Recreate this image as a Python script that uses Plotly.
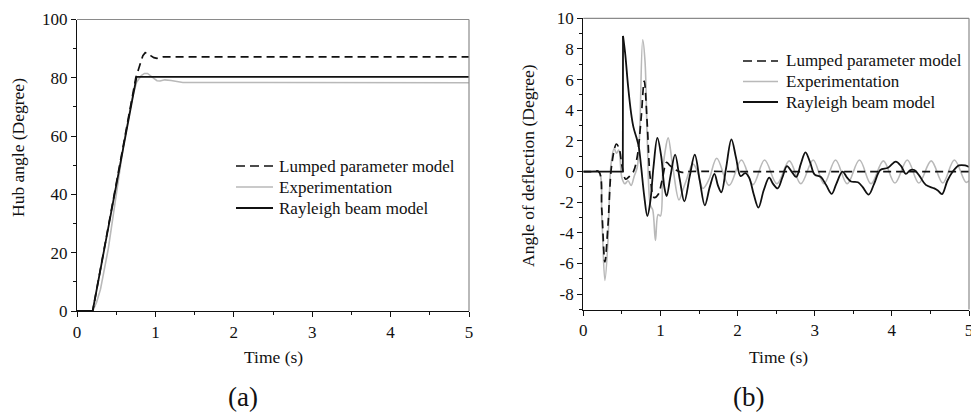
import plotly.graph_objects as go

# ---------------- (a) hub angle response ----------------
hub_t_lumped = [0.0, 0.2, 0.75, 0.78, 0.81, 0.84, 0.87, 0.90, 0.94, 0.98, 1.02, 1.06, 1.1, 5.0]
hub_lumped = [0.0, 0.0, 80.0, 82.5, 85.5, 87.6, 88.6, 88.5, 87.6, 86.9, 86.7, 87.0, 87.2, 87.2]

hub_t_exp = [0.0, 0.2, 0.25, 0.3, 0.4, 0.5, 0.6, 0.7, 0.76, 0.82, 0.86, 0.9, 0.94, 0.98,
             1.02, 1.06, 1.12, 1.2, 1.35, 1.8, 2.4, 5.0]
hub_exp = [0.0, 0.0, 3.0, 7.5, 21.5, 40.0, 58.0, 72.5, 78.5, 80.8, 81.5, 81.5, 80.8, 79.8,
           79.0, 78.9, 79.3, 79.1, 78.4, 78.5, 78.4, 78.3]

hub_t_rayleigh = [0.0, 0.2, 0.76, 5.0]
hub_rayleigh = [0.0, 0.0, 80.3, 80.3]

# ---------------- (b) tip deflection response ----------------
def_t_lumped = [0.0, 0.1, 0.2, 0.24, 0.28, 0.32, 0.37, 0.43, 0.47, 0.50, 0.55, 0.60,
                0.65, 0.70, 0.75, 0.79, 0.83, 0.87, 0.92, 0.97, 1.02, 1.08,
                1.12, 1.2, 1.28, 1.35, 2.0, 5.0]
def_lumped = [0.0, 0.0, 0.0, -2.5, -5.9, -3.5, 0.5, 1.8, 1.4, 0.4, -0.5, -0.3,
              0.0, 1.0, 3.5, 5.9, 3.0, -0.5, -1.7, -1.5, -0.6, 0.6,
              0.4, 0.1, -0.05, 0.0, 0.0, 0.0]

def_t_exp = [0.0, 0.1, 0.2, 0.24, 0.28, 0.32, 0.36, 0.40, 0.43, 0.46, 0.50, 0.54,
             0.58, 0.62, 0.66, 0.70, 0.73, 0.77, 0.80, 0.83, 0.87, 0.90,
             0.935, 0.97, 1.0, 1.03, 1.06, 1.10, 1.16, 1.24, 1.29, 1.33,
             1.42, 1.48, 1.55, 1.63, 1.73, 1.89, 2.05, 2.20, 2.35, 2.51,
             2.67, 2.82, 2.98, 3.12, 3.27, 3.42, 3.58, 3.73, 3.89, 4.04,
             4.20, 4.35, 4.51, 4.66, 4.81, 4.96, 5.0]
def_exp = [0.0, 0.0, 0.0, -3.0, -7.1, -4.5, 0.5, 1.5, 1.2, 1.4, -0.4, -0.8,
           -0.6, -0.9, -0.3, 0.3, 2.5, 8.6, 7.2, 2.0, -2.2, -2.5,
           -4.5, -2.8, -2.9, 0.0, 1.3, 2.2, 0.3, -1.85, -1.2, -0.65,
           0.5, 0.0, -1.1, -0.5, 0.87, -0.9, 0.75, -0.85, 0.75, -0.8,
           0.7, -0.8, 0.75, -0.8, 0.75, -0.8, 0.75, -0.8, 0.7, -0.75,
           0.75, -0.75, 0.7, -0.75, 0.75, -0.7, -0.6]

# Rayleigh model: at rest until the release, then a step to the peak
def_t_rayleigh_rest = [0.0, 0.512, 0.515]
def_rayleigh_rest = [0.0, 0.0, 8.85]

def_t_rayleigh = [0.515, 0.545, 0.58, 0.62, 0.65, 0.69, 0.72, 0.75,
                  0.79, 0.83, 0.87, 0.91, 0.96, 1.01, 1.05, 1.08, 1.13, 1.19,
                  1.25, 1.31, 1.38, 1.445, 1.51, 1.575, 1.64, 1.70, 1.745, 1.79,
                  1.85, 1.92, 1.98, 2.04, 2.1, 2.15, 2.21, 2.27, 2.34, 2.41,
                  2.46, 2.52, 2.58, 2.64, 2.70, 2.76, 2.82, 2.88, 2.94, 3.0,
                  3.08, 3.15, 3.22, 3.28, 3.36, 3.42, 3.47, 3.56, 3.62, 3.70,
                  3.77, 3.85, 3.95, 4.05, 4.12, 4.18, 4.24, 4.29, 4.36, 4.44,
                  4.55, 4.60, 4.65, 4.72, 4.79, 4.87, 4.95, 5.0]
def_rayleigh = [8.85, 7.6, 5.6, 3.8, 2.9, 2.2, 1.6, 0.3,
                -1.6, -2.9, -1.9, 0.3, 2.2, 1.0, -1.0, -1.6, -0.3, 1.1,
                -0.5, -1.95, -0.3, 1.1, -0.6, -2.2, -1.0, -0.15, -0.9, -1.35,
                0.2, 2.1, 0.9, -0.3, -0.1, -0.4, -1.5, -2.35, -1.2, -0.4,
                -0.8, -1.1, -0.4, 0.35, 0.0, -0.35, 0.5, 1.25, 0.6, -0.2,
                -0.35, -0.9, -1.45, -0.8, 0.0, -0.4, -0.65, -0.7, -1.0, -1.5,
                -0.8, 0.1, 0.25, 0.65, 0.35, -0.15, 0.1, 0.1, -0.3, -0.87,
                -1.1, -1.25, -1.47, -0.6, 0.0, 0.4, 0.4, 0.3]

hub_ticks = [0, 20, 40, 60, 80, 100]
def_ticks = [-8, -6, -4, -2, 0, 2, 4, 6, 8, 10]
time_ticks = [0, 1, 2, 3, 4, 5]

names = ["Lumped parameter model", "Experimentation", "Rayleigh beam model"]

SERIF = "Liberation Serif, Times New Roman, serif"
BLACK = "#111111"
GREY = "#b9b9b9"
FRAME = "#8a8a8a"
DASH = "8px,5px"

styles = {
    names[0]: dict(color=BLACK, width=1.7, dash=DASH),
    names[1]: dict(color=GREY, width=1.6),
    names[2]: dict(color=BLACK, width=1.8),
}

fig = go.Figure()

# left panel
fig.add_trace(go.Scatter(x=hub_t_exp, y=hub_exp, name=names[1], mode="lines",
                         line=styles[names[1]], xaxis="x", yaxis="y"))
fig.add_trace(go.Scatter(x=hub_t_lumped, y=hub_lumped, name=names[0], mode="lines",
                         line=styles[names[0]], xaxis="x", yaxis="y"))
fig.add_trace(go.Scatter(x=hub_t_rayleigh, y=hub_rayleigh, name=names[2], mode="lines",
                         line=styles[names[2]], xaxis="x", yaxis="y"))

# right panel
fig.add_trace(go.Scatter(x=def_t_exp, y=def_exp, name=names[1], mode="lines",
                         line=dict(styles[names[1]], shape="spline", smoothing=1.0),
                         xaxis="x2", yaxis="y2"))
fig.add_trace(go.Scatter(x=def_t_lumped, y=def_lumped, name=names[0], mode="lines",
                         line=dict(styles[names[0]], shape="spline", smoothing=1.0),
                         xaxis="x2", yaxis="y2"))
fig.add_trace(go.Scatter(x=def_t_rayleigh_rest, y=def_rayleigh_rest, name=names[2], mode="lines",
                         line=styles[names[2]], xaxis="x2", yaxis="y2"))
fig.add_trace(go.Scatter(x=def_t_rayleigh, y=def_rayleigh, name=names[2], mode="lines",
                         line=dict(styles[names[2]], shape="spline", smoothing=1.0),
                         xaxis="x2", yaxis="y2"))

W, H = 971, 413

def px_x(p):
    return p / W

def px_y(p):
    return 1 - p / H

tick_font = dict(family=SERIF, size=17, color="#111111")

common_axis = dict(showline=True, linecolor=BLACK, linewidth=1.3, ticks="outside",
                   ticklen=5, tickwidth=1.2, tickcolor=BLACK, showgrid=False,
                   zeroline=False, tickfont=tick_font, automargin=False,
                   ticklabeloverflow="allow")

fig.update_layout(
    width=W, height=H,
    margin=dict(l=0, r=0, t=0, b=0, pad=0, autoexpand=False),
    paper_bgcolor="white", plot_bgcolor="white",
    font=dict(family=SERIF, color="#111111"),
    showlegend=False,
    xaxis=dict(domain=[px_x(77), px_x(469)], range=[0, 5], anchor="y",
               tickvals=time_ticks, ticktext=[str(v) for v in time_ticks],
               minor=dict(dtick=0.5, tick0=0, ticks="outside", ticklen=3, tickcolor=BLACK),
               **common_axis),
    yaxis=dict(domain=[px_y(311), px_y(19.5)], range=[0, 100], anchor="x",
               tickvals=hub_ticks, ticktext=[str(v) for v in hub_ticks],
               minor=dict(dtick=10, tick0=0, ticks="outside", ticklen=3, tickcolor=BLACK),
               **common_axis),
    xaxis2=dict(domain=[px_x(583.3), px_x(969)], range=[0, 5], anchor="y2",
                tickvals=time_ticks, ticktext=[str(v) for v in time_ticks],
                minor=dict(dtick=0.5, tick0=0, ticks="outside", ticklen=3, tickcolor=BLACK),
                **common_axis),
    yaxis2=dict(domain=[px_y(309.5), px_y(18.3)], range=[-9, 10], anchor="x2",
                tickvals=def_ticks, ticktext=[str(v) for v in def_ticks],
                minor=dict(dtick=1, tick0=0, ticks="outside", ticklen=3, tickcolor=BLACK),
                **common_axis),
)

# grey top and right frame edges
for xa, ya in (("x", "y"), ("x2", "y2")):
    fig.add_shape(type="line", xref=f"{xa} domain", yref=f"{ya} domain",
                  x0=0, x1=1, y0=1, y1=1, line=dict(color=FRAME, width=1.2))
    fig.add_shape(type="line", xref=f"{xa} domain", yref=f"{ya} domain",
                  x0=1, x1=1, y0=0, y1=1, line=dict(color=FRAME, width=1.2))


def add_key(x0, x1, text_x, rows):
    """Legend block: a short line sample followed by its label for each series."""
    for name, y in zip(names, rows):
        st = styles[name]
        fig.add_shape(type="line", xref="paper", yref="paper",
                      x0=px_x(x0), x1=px_x(x1), y0=px_y(y), y1=px_y(y),
                      line=dict(color=st["color"], width=st["width"],
                                dash="9px,5px" if "dash" in st else "solid"))
        fig.add_annotation(text=name, x=px_x(text_x), y=px_y(y), xref="paper", yref="paper",
                           xanchor="left", yanchor="middle", showarrow=False,
                           font=dict(family=SERIF, size=17, color="#111111"))


add_key(236, 273, 277, [166, 187, 208])
add_key(743, 778, 784, [61, 81.5, 102])

title_font = dict(family=SERIF, size=17.5, color="#111111")


def label(text, x, y, angle=0, font=title_font):
    fig.add_annotation(text=text, x=px_x(x), y=px_y(y), xref="paper", yref="paper",
                       xanchor="center", yanchor="middle", textangle=angle,
                       showarrow=False, font=font)


label("Hub angle (Degree)", 18, 148, -90)
label("Time (s)", 273, 357)
label("Angle of deflection (Degree)", 528, 166, -90)
label("Time (s)", 778, 357)
big = dict(family=SERIF, size=27, color="#111111")
label("(a)", 243, 397, font=big)
label("(b)", 748, 397, font=big)

fig.write_html("out.html")
